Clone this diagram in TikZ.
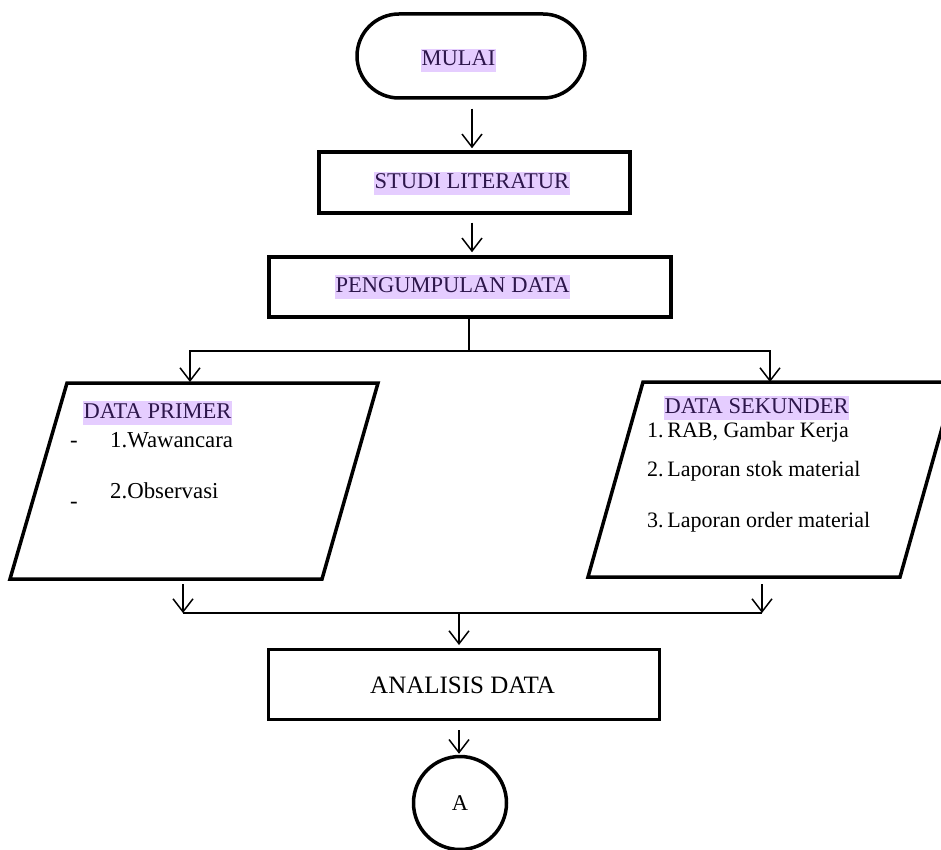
\documentclass[tikz,border=0pt]{standalone}
\usepackage{fontspec}
\setmainfont{Liberation Serif}
\usetikzlibrary{arrows.meta,calc}
\definecolor{hl}{RGB}{229,205,255}
\definecolor{hltext}{RGB}{45,22,75}
\begin{document}
\begin{tikzpicture}[x=1pt,y=-1pt,
  boxline/.style={draw, line width=3.5pt},
  conn/.style={line width=1.5pt},
  arr/.style={conn, -{Straight Barb[length=13pt,width=20pt]}},
  txt/.style={font=\fontsize{22.5}{26}\selectfont, inner sep=0pt, anchor=base west},
  ltxt/.style={font=\fontsize{22.8}{26}\selectfont, inner sep=0pt, anchor=base west},
  stxt/.style={font=\fontsize{22}{26}\selectfont, inner sep=0pt, anchor=base west},
  hlabel/.style={txt, fill=hl, text=hltext, inner xsep=0.5pt, text height=17pt, text depth=6.5pt},
]
\useasboundingbox (0,0) rectangle (941,850);
\clip (0,0) rectangle (941,850);

% terminator
\node[boxline, rounded corners=42pt, minimum width=228pt, minimum height=84pt] (mulai) at (471,56) {};
\node[hlabel] (tmulai) at (421,66) {MULAI};

% studi literatur
\node[boxline, minimum width=311pt, minimum height=61pt] (studi) at (474.5,182.5) {};
\node[hlabel] (tstudi) at (374,189) {STUDI LITERATUR};

% pengumpulan data
\node[boxline, minimum width=402pt, minimum height=60pt] (peng) at (470,287) {};
\node[hlabel] (tpeng) at (335,292) {PENGUMPULAN DATA};

% data primer parallelogram
\coordinate (pA) at (67,383);
\coordinate (pB) at (378,383);
\coordinate (pC) at (322,579);
\coordinate (pD) at (10,579);
\draw[line width=3.5pt] (pA) -- (pB) -- (pC) -- (pD) -- cycle;
\node[hlabel] (tprim) at (83,418) {DATA PRIMER};
\node[ltxt] (dash1) at (70,447) {-};
\node[ltxt] (w1) at (110,447) {1.Wawancara};
\node[ltxt] (dash2) at (70,508) {-};
\node[ltxt] (w2) at (110,498) {2.Observasi};

% data sekunder parallelogram
\coordinate (sA) at (643,382);
\coordinate (sB) at (955,382);
\coordinate (sC) at (900,577);
\coordinate (sD) at (588,577);
\draw[line width=3.5pt] (sA) -- (sB) -- (sC) -- (sD) -- cycle;
\node[hlabel] (tsek) at (664,413) {DATA SEKUNDER};
\node[stxt] (s1) at (647,437) {1.\,RAB, Gambar Kerja};
\node[stxt] (s2) at (647,476) {2.\,Laporan stok material};
\node[stxt] (s3) at (647,527) {3.\,Laporan order material};

% analisis data
\node[draw, line width=3pt, minimum width=391pt, minimum height=70pt] (anal) at (464,684.5) {};
\node[txt, font=\fontsize{25}{28}\selectfont] (tanal) at (370,693) {ANALISIS DATA};

% connector A
\node[draw, circle, line width=3.5pt, minimum size=93pt, inner sep=0pt,
      font=\fontsize{22.5}{24}\selectfont] (conA) at (460,803) {A};

% connectors
\draw[arr] ($(mulai.south)+(1,9)$) -- ($(studi.north)+(-2.5,-2)$);
\draw[arr] ($(studi.south)+(-2.5,8)$) -- ($(peng.north)+(2,-3)$);
\coordinate (split) at (469,351);
\coordinate (primtop) at (190,383);
\coordinate (sektop) at (770,383);
\draw[conn] (peng.south -| split) -- (split);
\draw[arr] (split) -| ($(primtop)+(0,-1)$);
\draw[arr] (split) -| ($(sektop)+(0,-1)$);

\coordinate (primbot) at (183,584);
\coordinate (sekbot) at (762,584);
\coordinate (mL) at (183,613);
\coordinate (mR) at (762,613);
\coordinate (merge) at (459,613);
\draw[arr] (primbot) -- (mL);
\draw[arr] (sekbot) -- (mR);
\draw[conn] (mL) -- (mR);
\draw[arr] (merge) -- ($(anal.north -| merge)+(0,-3)$);
\draw[arr] ($(anal.south -| conA)+(-1,9)$) -- ($(conA.north)+(-1,-1)$);
\end{tikzpicture}
\end{document}
